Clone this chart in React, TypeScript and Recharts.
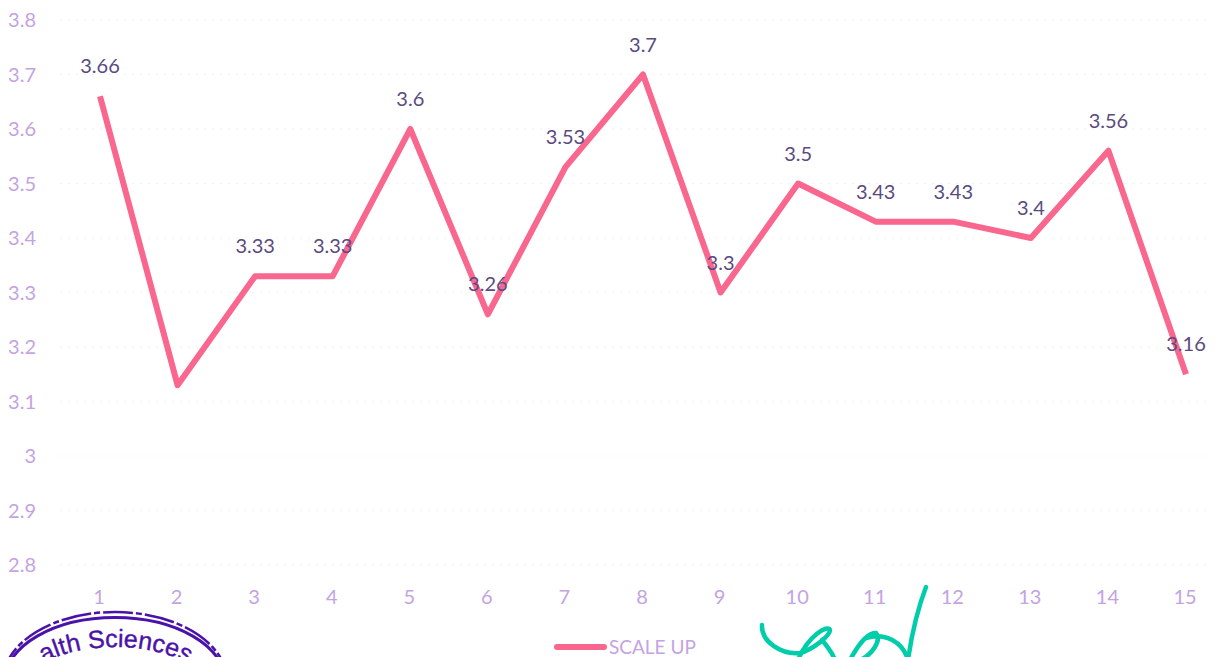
import React from 'react';
import {
  LineChart,
  Line,
  XAxis,
  YAxis,
  CartesianGrid,
  Legend,
  LabelList
} from 'recharts';

const categories = ['1', '2', '3', '4', '5', '6', '7', '8', '9', '10', '11', '12', '13', '14', '15'];
const scaleUp = [3.66, 3.13, 3.33, 3.33, 3.6, 3.26, 3.53, 3.7, 3.3, 3.5, 3.43, 3.43, 3.4, 3.56, 3.15];
// point 2 carries no printed label in the scan
const pointLabels = ['3.66', null, '3.33', '3.33', '3.6', '3.26', '3.53', '3.7', '3.3', '3.5', '3.43', '3.43', '3.4', '3.56', '3.16'];
const yTicks = [2.8, 2.9, 3, 3.1, 3.2, 3.3, 3.4, 3.5, 3.6, 3.7, 3.8];

const chartData = categories.map((name, i) => ({
  name,
  scaleUp: scaleUp[i],
  label: pointLabels[i]
}));

const FONT = 'Lato, "Open Sans", sans-serif';
const AXIS_COLOR = '#c4a3e2';
const LINE_COLOR = '#f9668e';
const STAMP_COLOR = '#4a12a8';

// Stamp and signature that sit over the scanned page
const ScanMarks = () => (
  <svg width={1215} height={657} style={{ position: 'absolute', left: 0, top: 0, pointerEvents: 'none' }}>
    <defs>
      <path id="stampArc" d="M 15 700 A 100 53 0 0 1 215 700" />
    </defs>
    <ellipse cx={115} cy={681} rx={112} ry={69} fill="none" stroke={STAMP_COLOR} strokeWidth={2.5} strokeDasharray="30 3 6 3" />
    <ellipse cx={115} cy={681} rx={110} ry={63.5} fill="none" stroke={STAMP_COLOR} strokeWidth={3} />
    <text fontFamily="Liberation Sans" fontSize={25} fill={STAMP_COLOR} stroke={STAMP_COLOR} strokeWidth={0.4}>
      <textPath href="#stampArc" startOffset="20%">alth Sciences</textPath>
    </text>
    <path
      d="M 762 625 C 761 642 782 655 800 653 C 812 650 830 636 830 630 C 828 624 808 636 798 660 M 822 640 C 827 646 832 652 835 660 M 850 660 C 858 645 868 632 876 633 C 882 640 872 655 860 660 M 866 638 C 885 632 903 642 908 660 C 912 632 918 608 926 587"
      fill="none"
      stroke="#00cdaa"
      strokeWidth={4.5}
      strokeLinecap="round"
    />
  </svg>
);

export default function App() {
  return (
    <div style={{ position: 'relative', width: 1215, height: 657, background: '#ffffff', overflow: 'hidden' }}>
      <style>{`body { margin: 0; }`}</style>
      <LineChart
        width={1215}
        height={657}
        data={chartData}
        margin={{ top: 20, right: 9, bottom: 0, left: 0 }}
      >
        <CartesianGrid horizontal vertical={false} stroke="#f3f3f3" strokeDasharray="2 6" />
        <XAxis
          dataKey="name"
          height={70}
          axisLine={false}
          tickLine={false}
          tickMargin={19}
          padding={{ left: 40, right: 20 }}
          interval={0}
          dx={-1}
          tick={{ fill: AXIS_COLOR, fontSize: 20, fontFamily: FONT }}
        />
        <YAxis
          width={60}
          domain={[2.8, 3.8]}
          ticks={yTicks}
          interval={0}
          axisLine={false}
          tickLine={false}
          tickMargin={18}
          tick={{ fill: AXIS_COLOR, fontSize: 20, fontFamily: FONT }}
        />
        <Legend
          content={() => (
            <div
              style={{
                display: 'flex',
                alignItems: 'center',
                fontFamily: FONT,
                fontSize: 19,
                lineHeight: '22px',
                color: AXIS_COLOR,
                whiteSpace: 'nowrap'
              }}
            >
              <span style={{ display: 'inline-block', width: 53, height: 6, borderRadius: 3, background: LINE_COLOR, marginRight: 2 }} />
              SCALE UP
            </div>
          )}
          wrapperStyle={{ left: 554, top: 636, bottom: 'auto', width: 'auto' }}
        />
        <Line
          type="linear"
          dataKey="scaleUp"
          name="SCALE UP"
          stroke={LINE_COLOR}
          strokeWidth={6}
          strokeLinejoin="round"
          dot={false}
          activeDot={false}
          isAnimationActive={false}
        >
          <LabelList
            dataKey="label"
            position="top"
            offset={23}
            fill="#5b4a80"
            fontSize={20}
            fontFamily={FONT}
          />
        </Line>
      </LineChart>
      <ScanMarks />
    </div>
  );
}
